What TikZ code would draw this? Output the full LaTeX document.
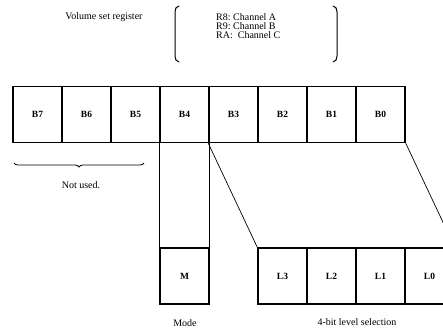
\documentclass[tikz,border=0pt]{standalone}
\usepackage{fontspec}
\setmainfont{Liberation Serif}
\usetikzlibrary{decorations.pathreplacing}
\begin{document}
\begin{tikzpicture}[x=1pt,y=-1pt,
  cell/.style={draw,line width=1.5pt,minimum width=49pt,minimum height=56pt,inner sep=0pt,font=\fontsize{9.5}{10}\selectfont\bfseries},
  conn/.style={line width=0.7pt},
  lbl/.style={font=\fontsize{10}{11}\selectfont,inner sep=0pt},
  paren/.style={line width=1pt}]
\useasboundingbox (0,0) rectangle (443,329);
\clip (0,0) rectangle (443,329);
% top register
\foreach \n [count=\i from 0] in {B7,B6,B5,B4,B3,B2,B1,B0}
  \node[cell] (\n) at ({37.5+49*\i},114.5) {\n};
% mode
\node[cell] (M) at (184.5,276) {M};
% level
\foreach \n [count=\i from 0] in {L3,L2,L1,L0}
  \node[cell] (\n) at ({282.5+49*\i},276) {\n};
% connectors
\draw[conn] (B4.south west) -- (M.north west);
\draw[conn] (B4.south east) -- (M.north east);
\draw[conn] (B3.south west) -- (L3.north west);
\draw[conn] (B0.south east) -- (L0.north east);
% brace
\coordinate (bl) at (14,163);
\coordinate (br) at (144,163);
\draw[line width=0.8pt,decorate,decoration={brace,mirror,amplitude=4pt}] (bl) -- (br);
\node[lbl] (nu) at (81,185) {Not used.};
% labels
\node[lbl] (mode) at (185,323) {Mode};
\node[lbl] (lev) at (357,322) {4-bit level selection};
\node[lbl] (vsr) at (104,17) {Volume set register};
\node[lbl,anchor=west,align=left,font=\fontsize{10}{9}\selectfont] (regs) at (216,26) {R8:\ Channel A\\R9:\ Channel B\\RA:\ \ Channel C};
% parentheses
\draw[paren] (179,6) to[out=180,in=90] (175,12) -- (175,56) to[out=-90,in=180] (179,62);
\draw[paren] (333,6) to[out=0,in=90] (337,12) -- (337,56) to[out=-90,in=0] (333,62);
\end{tikzpicture}
\end{document}
